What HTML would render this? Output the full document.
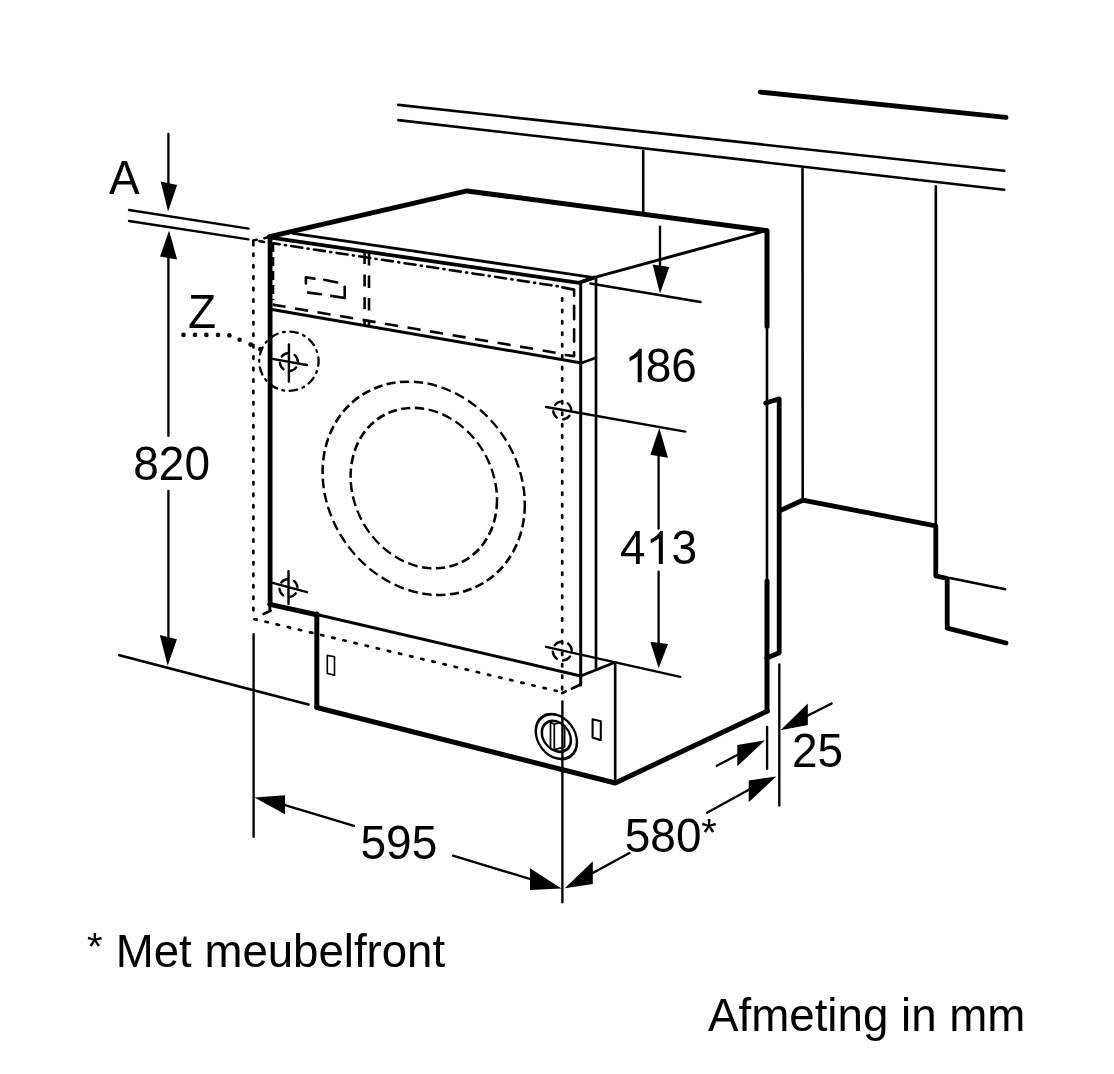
<!DOCTYPE html>
<html><head><meta charset="utf-8">
<style>
html,body{margin:0;padding:0;background:#fff;}
body{width:1114px;height:1074px;overflow:hidden;}
svg{display:block;will-change:transform;}
text{font-family:"Liberation Sans",sans-serif;fill:#000;}
</style></head><body>
<svg width="1114" height="1074" viewBox="0 0 1114 1074">
<rect width="1114" height="1074" fill="#fff"/>
<g fill="none" stroke="#000" stroke-linecap="round" stroke-linejoin="round">
<!-- wall -->
<g stroke-width="2.6">
<line x1="398.3" y1="104.9" x2="1004.2" y2="170.8"/>
<line x1="398.3" y1="120.1" x2="1004.2" y2="189.8"/>
<line x1="643.2" y1="151" x2="643.2" y2="211.7"/>
<line x1="802.5" y1="169" x2="802.7" y2="497.5"/>
<line x1="935.8" y1="186.4" x2="935.8" y2="526"/>
</g>
<line x1="760.3" y1="92.1" x2="1006" y2="117.4" stroke-width="4.9"/>
<!-- right cabinet -->
<polyline points="779.2,511 802.7,500.2 935.8,525.8 935.8,575.8 947.2,578.5 947.2,628.2 1006,643" stroke-width="4.8"/>
<line x1="950" y1="578" x2="1005.2" y2="589.3" stroke-width="2.4"/>
<!-- plate -->
<polyline points="765.7,403 779.2,398.9 779.2,652.7 767,658" stroke-width="4.8"/>
<!-- machine top -->
<polyline points="269.5,236.6 467,190.9 766.7,230.7" stroke-width="5"/>
<line x1="264.4" y1="238.2" x2="272" y2="236" stroke-width="2.6"/>
<line x1="293" y1="233.3" x2="593.9" y2="277.6" stroke-width="2.8"/>
<polyline points="271,237.6 579,282.8 593.9,277.6" stroke-width="3.8"/>
<line x1="593.9" y1="277.6" x2="763.9" y2="231.2" stroke-width="3"/>
<!-- verticals -->
<line x1="270.1" y1="237" x2="270.1" y2="604" stroke-width="4.8"/>
<line x1="580.7" y1="282.3" x2="580.7" y2="685" stroke-width="3"/>
<line x1="596" y1="278" x2="596" y2="668" stroke-width="2.7"/>
<line x1="767" y1="230.7" x2="767" y2="326.2" stroke-width="5"/>
<line x1="767" y1="326" x2="767" y2="581" stroke-width="2.6"/>
<line x1="767" y1="581" x2="767" y2="711" stroke-width="5"/>
<!-- panel -->
<line x1="272" y1="309.5" x2="580" y2="362.8" stroke-width="2.9"/>
<polyline points="580.7,363.2 596,357.8" stroke-width="2.7"/>
<g stroke-width="2.6" stroke-linecap="butt">
<line x1="273.5" y1="243.4" x2="558.5" y2="286.4" stroke-dasharray="11.1 5.35 1.1 5.35" stroke-dashoffset="4.9" stroke-linecap="round"/>
<line x1="272.5" y1="304.6" x2="557" y2="352.9" stroke-dasharray="13.2 9.63"/>
<line x1="273" y1="243" x2="273" y2="300" stroke-dasharray="9 5"/>
<line x1="364.6" y1="252" x2="364.6" y2="325" stroke-dasharray="12 10.6"/>
<line x1="369" y1="253" x2="369" y2="325" stroke-dasharray="12.5 10"/>
</g>
<path d="M562.3,287.4 L574.1,289.6 V295.8 M574.1,305.8 V319.2 M574.1,329.3 V341.6 M574.1,352.2 V356.1 L565.7,355" stroke-width="2.6"/>
<g stroke-width="2.6">
<path d="M305.9,283.5 V277.2 L314.6,278.6"/>
<path d="M324.2,279.8 L337.2,282.4"/>
<path d="M344.7,286.7 V298 L331.2,295.9"/>
<path d="M321,294.2 L308.1,292.6"/>
</g>
<!-- door bottom / plinth -->
<line x1="269.8" y1="604.4" x2="316.8" y2="614.8" stroke-width="5"/>
<line x1="316.8" y1="614.5" x2="580.7" y2="676" stroke-width="2.9"/>
<polyline points="580.7,676 615.2,662.2" stroke-width="2.7"/>
<line x1="316.8" y1="614" x2="316.8" y2="707" stroke-width="5"/>
<polyline points="316.8,707.5 615.2,783 767.5,711" stroke-width="5"/>
<line x1="615.2" y1="662.2" x2="615.2" y2="782" stroke-width="2.6"/>
<!-- furniture outline (dotted) -->
<g stroke-width="2.7" stroke-dasharray="2.4 9.03" stroke-linecap="round">
<line x1="253.4" y1="253.6" x2="253.4" y2="619"/>
<line x1="562.2" y1="298.3" x2="562.2" y2="693"/>
<line x1="254.4" y1="619.1" x2="562.2" y2="692.3"/>
</g>
<g stroke-width="2.7">
<path d="M253.3,245.2 V240.5 L256.7,239.8"/>
<path d="M259.4,241.2 L263.9,242"/>
<path d="M263.6,614 L270.8,610.6 M269.8,606.4 V610.6"/>
<path d="M562.3,692.9 L565.7,691.4 M572,688.4 L580.2,684.7"/>
</g>
<!-- door circles -->
<g stroke-width="2.5" stroke-dasharray="9.5 4.5" stroke-linecap="butt">
<ellipse cx="0" cy="0" rx="101.1" ry="105.4" transform="translate(423.7,488.3) skewY(9.09)"/>
<ellipse cx="0" cy="0" rx="73.2" ry="79.4" transform="translate(423.8,488.1) skewY(9.09)"/>
</g>
<!-- Z circle -->
<circle cx="288.9" cy="361.2" r="29.7" stroke-width="2.3" stroke-dasharray="7.6 5.6 1.8 5.6" stroke-dashoffset="3.02"/>
<!-- crosshairs -->
<g stroke-width="2.4">
<circle cx="288.9" cy="362" r="9" stroke-dasharray="7.44 6.7" stroke-dashoffset="8.44"/>
<line x1="288.9" y1="344.4" x2="288.9" y2="381.5"/>
<line x1="272.5" y1="358.9" x2="306.8" y2="365"/>
<circle cx="288.5" cy="588" r="9" stroke-dasharray="7.44 6.7" stroke-dashoffset="8.44"/>
<line x1="288.5" y1="571.2" x2="288.5" y2="604"/>
<line x1="271.7" y1="582.7" x2="307" y2="592.2"/>
<circle cx="562.2" cy="410.4" r="9" stroke-dasharray="7.44 6.7" stroke-dashoffset="8.44"/>
<circle cx="562.3" cy="651" r="9.5" stroke-dasharray="8.2 6.72" stroke-dashoffset="9.07"/>
</g>
<!-- knob -->
<g stroke-width="2.5">
<ellipse cx="0" cy="0" rx="20.6" ry="21.76" transform="translate(556.35,736.6) skewY(15)"/>
<ellipse cx="0" cy="0" rx="14.5" ry="15" transform="translate(556.35,736.35) skewY(15)"/>
</g>
<g stroke-width="1.7">
<path d="M550.5,722.6 V747.2 M554.3,724 V749.6 M550.5,722.6 L554.3,724 L560.5,722.6 M564.6,725.5 V746.8 M554.3,749.6 L561,747.9 L564.6,746.8"/>
</g>
<polygon points="592.6,719.3 600.8,721.2 600.8,740.2 592.6,737.6" stroke-width="2.1"/>
<polygon points="327.3,655.4 334.5,656.8 334.5,675.2 327.3,673.4" stroke-width="1.6"/>
<!-- dims: thin lines -->
<g stroke-width="2.35">
<line x1="129" y1="210" x2="248.6" y2="228.6"/>
<line x1="129" y1="221" x2="248.6" y2="239.4"/>
<line x1="168.4" y1="134" x2="168.4" y2="190"/>
<line x1="168.4" y1="250" x2="168.4" y2="435.7"/>
<line x1="168.4" y1="490.8" x2="168.4" y2="645"/>
<line x1="119.4" y1="655.2" x2="308.5" y2="704.5" stroke-width="2.7"/>
<line x1="660" y1="226.6" x2="660" y2="270"/>
<line x1="590.3" y1="283.5" x2="700.6" y2="302"/>
<line x1="546" y1="407" x2="685.3" y2="431.6"/>
<line x1="658.6" y1="450" x2="658.6" y2="528.5"/>
<line x1="658.6" y1="571.7" x2="658.6" y2="650"/>
<line x1="546" y1="646.8" x2="680.3" y2="676.8"/>
<line x1="253.6" y1="634.1" x2="253.6" y2="836.8"/>
<line x1="562.4" y1="701.3" x2="562.4" y2="902.2"/>
<line x1="285" y1="805" x2="354" y2="825.8"/>
<line x1="453" y1="855.6" x2="535" y2="880.5"/>
<line x1="592.8" y1="873" x2="629.4" y2="853"/>
<line x1="707" y1="812.8" x2="752" y2="788"/>
<line x1="779.3" y1="664.3" x2="779.3" y2="805.4"/>
<line x1="767.1" y1="726.9" x2="767.1" y2="768.8"/>
<line x1="716.8" y1="765.8" x2="742" y2="752.5"/>
<line x1="831.6" y1="703.5" x2="804" y2="717.5"/>
</g>
</g>
<!-- Z leader dots -->
<g fill="#000">
<circle cx="183.5" cy="334.9" r="2.3"/>
<circle cx="195" cy="334.9" r="2.3"/>
<circle cx="206.4" cy="334.9" r="2.3"/>
<circle cx="218" cy="334.9" r="2.3"/>
<circle cx="229.4" cy="335.4" r="2.3"/>
<circle cx="239.6" cy="339.8" r="2.3"/>
<circle cx="250.7" cy="344.6" r="2.4"/>
<circle cx="260.4" cy="349.2" r="2.4"/>
</g>
<!-- arrowheads -->
<g fill="#000" stroke="none">
<polygon points="168.1,211.4 160.7,181.4 177.1,184.9"/>
<polygon points="169.1,230.5 160,256.6 177.1,259.4"/>
<polygon points="167.7,665.8 159.8,635.1 176.9,639.3"/>
<polygon points="660,293.6 652.6,264.5 669.3,267"/>
<polygon points="659.3,427.9 650.4,454.7 668,457.8"/>
<polygon points="658.7,668.2 650.3,641.8 668,644"/>
<polygon points="254.5,797.5 285,795.3 285,814.2"/>
<polygon points="561.4,888.6 530,868.2 530,890"/>
<polygon points="564.8,888.2 592.8,861.3 592.8,883.9"/>
<polygon points="776.3,776.4 748.7,780.6 748.7,802.3"/>
<polygon points="764.9,740.3 737.3,745 737.3,766.3"/>
<polygon points="780.5,730.3 807.8,703.5 807.8,724.9"/>
</g>
<!-- text -->
<g font-size="46">
<text transform="translate(109,194.2) scale(1,1.035)">A</text>
<text transform="translate(188,327.7) scale(1,1.03)">Z</text>
<text transform="translate(133.3,479.5) scale(1,1.035)">820</text>
<path transform="translate(624.5,382.2) scale(0.0226,-0.02265)" d="M763 0H583V1147Q518 1085 412 1023Q307 961 223 930V1104Q374 1175 487 1276Q600 1377 647 1472H763Z"/>
<text transform="translate(645.8,381.8) scale(1,1.035)">86</text>
<text transform="translate(619.9,563.6) scale(1,1.035)">4</text>
<path transform="translate(645.6,564) scale(0.0226,-0.0224)" d="M763 0H583V1147Q518 1085 412 1023Q307 961 223 930V1104Q374 1175 487 1276Q600 1377 647 1472H763Z"/>
<text transform="translate(671.6,563.6) scale(1,1.035)">3</text>
<text transform="translate(360.5,859.3) scale(1,1.035)">595</text>
<text transform="translate(624.8,852.4) scale(1,1.035)">580</text>
<text transform="translate(701.3,846.1) scale(0.87,0.86)">*</text>
<text transform="translate(792,766.6) scale(1,1.035)">25</text>
<text transform="translate(87,960.3) scale(0.87,0.86)">*</text>
<text font-size="45.6" transform="translate(115.8,966.5) scale(1,1.03)">Met meubelfront</text>
<text font-size="45.7" transform="translate(708,1031) scale(1,1.03)">Afmeting in mm</text>
</g>
</svg>
</body></html>
